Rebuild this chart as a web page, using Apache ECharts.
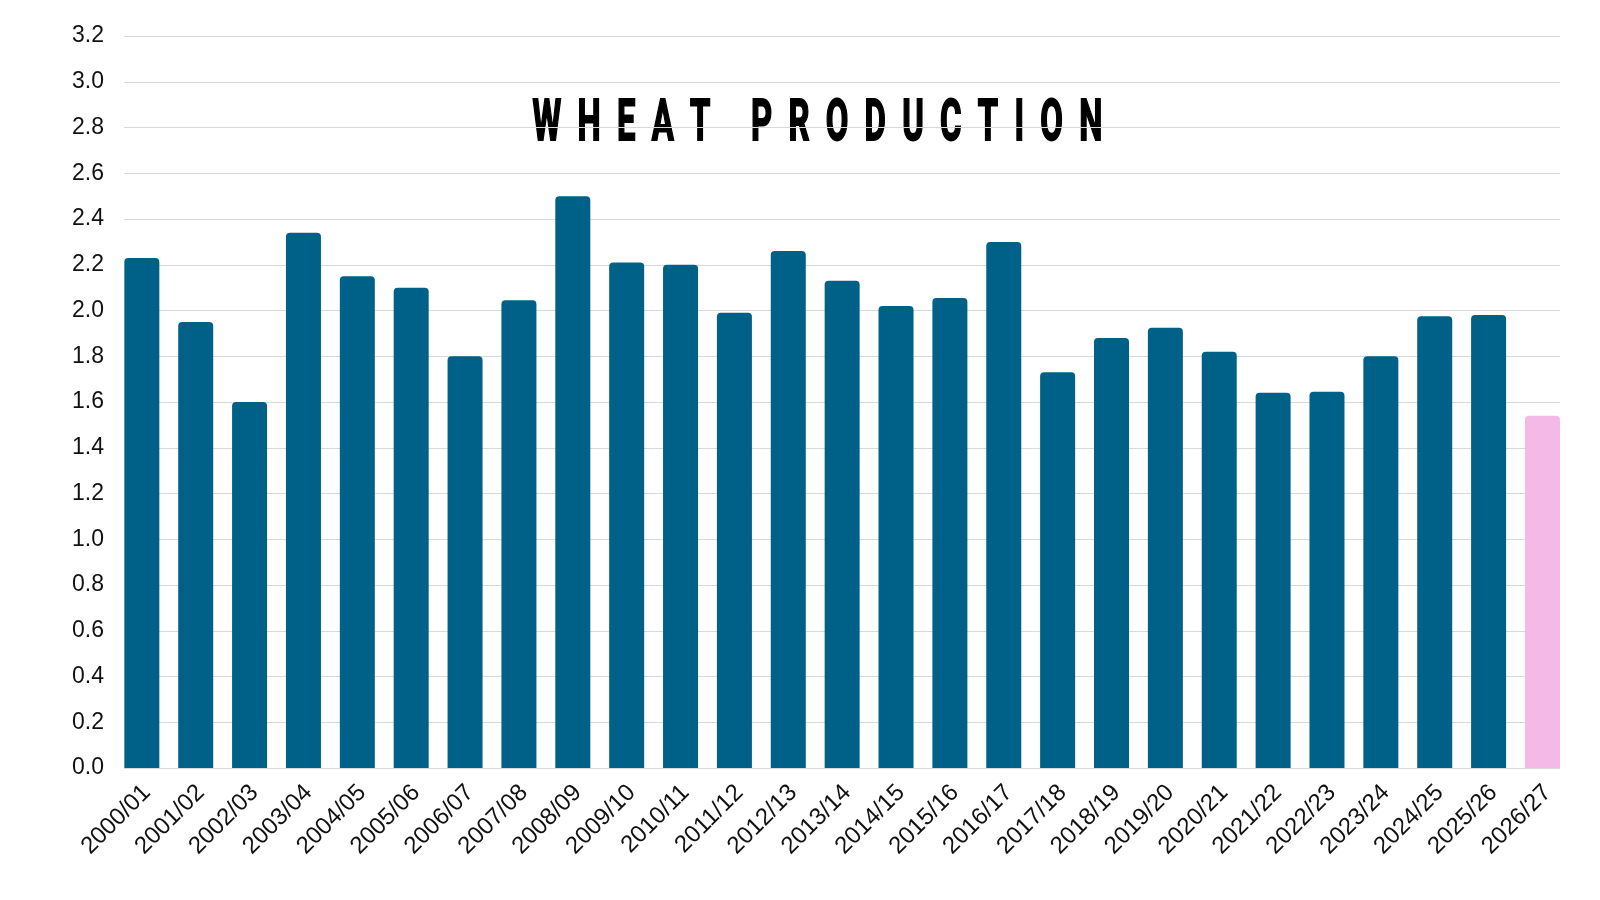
<!DOCTYPE html>
<html>
<head>
<meta charset="utf-8">
<script src="https://cdn.jsdelivr.net/npm/echarts@6/dist/echarts.min.js"></script>
<style>html,body{margin:0;padding:0;background:#fff;}#c{width:1600px;height:900px;}</style>
</head>
<body>
<div id="c"></div>
<script>
const categories = ['2000/01','2001/02','2002/03','2003/04','2004/05','2005/06','2006/07','2007/08','2008/09','2009/10','2010/11','2011/12','2012/13','2013/14','2014/15','2015/16','2016/17','2017/18','2018/19','2019/20','2020/21','2021/22','2022/23','2023/24','2024/25','2025/26','2026/27'];
const production = [2.23,1.95,1.60,2.34,2.15,2.10,1.80,2.045,2.50,2.21,2.20,1.99,2.26,2.13,2.02,2.055,2.30,1.73,1.88,1.925,1.82,1.64,1.645,1.80,1.975,1.98,1.54];
const forecastCategory = '2026/27';
const yMin = 0, yMax = 3.2, yStep = 0.2;
const titleText = 'WHEAT PRODUCTION';

const BLUE = '#006188';
const PINK = '#f5b9e8';
const spaced = titleText.split(' ').map(w => w.split('').join('  ')).join('     ');

const chart = echarts.init(document.getElementById('c'), null, {renderer:'canvas'});
chart.setOption({
  backgroundColor:'#ffffff',
  animation:false,
  graphic:[{
    type:'text',
    left: 532, top: 95,
    scaleX: 0.565,
    style:{
      text: spaced,
      font: 'bold 58px Roboto',
      fill:'#000000',
      stroke:'#000000',
      lineWidth:2
    }
  }],
  grid:[
    {left:124, right:40, top:36, bottom:132},
    {left:114.9, right:30.6, top:36, bottom:132},
    {left:119.9, right:25.6, top:36, bottom:132}
  ],
  xAxis:[
    {gridIndex:0, type:'category', data:categories, show:false},
    {gridIndex:1, type:'category', data:categories, show:false},
    {gridIndex:2, type:'category', data:categories,
      axisLine:{show:false}, axisTick:{show:false}, splitLine:{show:false},
      axisLabel:{rotate:45, margin:21, fontSize:24, color:'#111', fontFamily:'Liberation Sans, Arial, sans-serif', interval:0}
    }
  ],
  yAxis:[
    {gridIndex:0, type:'value', min:yMin, max:yMax, interval:yStep,
      axisLine:{show:false}, axisTick:{show:false},
      splitLine:{show:true, lineStyle:{color:'#d9d9d9', width:1}},
      axisLabel:{margin:20, fontSize:23, color:'#111', fontFamily:'Liberation Sans, Arial, sans-serif', formatter:v=>v.toFixed(1)}
    },
    {gridIndex:1, type:'value', min:yMin, max:yMax, interval:yStep, show:false, splitLine:{show:false}},
    {gridIndex:2, type:'value', min:yMin, max:yMax, interval:yStep, show:false, splitLine:{show:false}}
  ],
  series:[{
    type:'bar', xAxisIndex:1, yAxisIndex:1,
    barWidth:35,
    data: production.map((v,i)=>({value:v, itemStyle:{color: categories[i]===forecastCategory ? PINK : BLUE}})),
    itemStyle:{borderRadius:[4,4,0,0]}
  }]
});
</script>
</body>
</html>
